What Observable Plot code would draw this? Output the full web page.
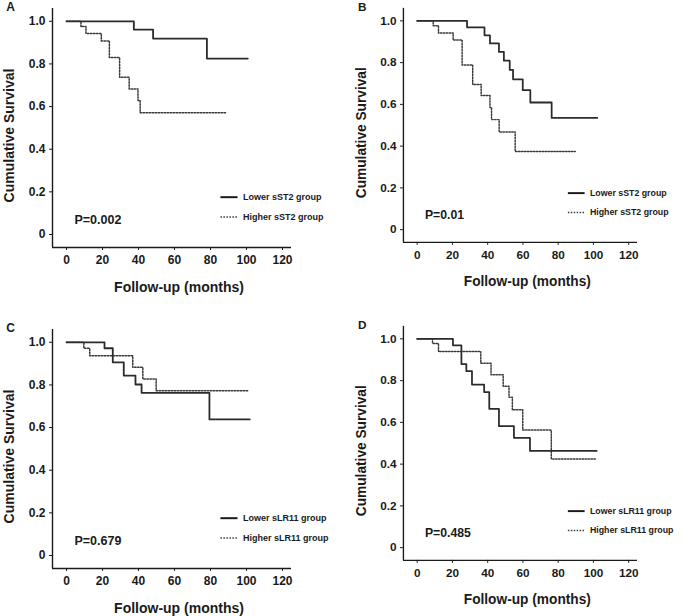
<!DOCTYPE html>
<html>
<head>
<meta charset="utf-8">
<script src="https://cdn.jsdelivr.net/npm/d3@7"></script>
<script src="https://cdn.jsdelivr.net/npm/@observablehq/plot@0.6"></script>
<style>
  html, body { margin: 0; padding: 0; background: #fff; overflow: hidden; }
  #wrap { position: relative; width: 685px; height: 616px; }
  .panel { position: absolute; }
</style>
</head>
<body>
<div id="wrap"></div>
<script>
// ---- data ----
const panelLetters = ["A", "B", "C", "D"];
const groupNames = [
  ["Lower sST2 group", "Higher sST2 group"],
  ["Lower sST2 group", "Higher sST2 group"],
  ["Lower sLR11 group", "Higher sLR11 group"],
  ["Lower sLR11 group", "Higher sLR11 group"]
];
const pValues = ["P=0.002", "P=0.01", "P=0.679", "P=0.485"];

const xTicks = [0, 20, 40, 60, 80, 100, 120];
const yTicks = [0, 0.2, 0.4, 0.6, 0.8, 1.0];

const aLowerT = [0, 37.4, 48.1, 78, 100.7];
const aLowerS = [1, 0.961, 0.919, 0.825, 0.825];
const aHigherT = [0, 8, 10.8, 19.3, 23.8, 29.5, 34.8, 39.7, 40.9, 88.7];
const aHigherS = [1, 0.975, 0.943, 0.908, 0.83, 0.737, 0.683, 0.629, 0.571, 0.571];

const bLowerT = [0, 28.3, 38.2, 41.3, 46.4, 49.2, 52.5, 54.4, 59.9, 64.2, 76.3, 102.2];
const bLowerS = [1, 0.969, 0.931, 0.892, 0.851, 0.809, 0.765, 0.72, 0.668, 0.609, 0.535, 0.535];
const bHigherT = [0, 9.1, 12.1, 20.4, 25.5, 31.5, 36.3, 41.3, 42.2, 46.5, 55.6, 89.7];
const bHigherS = [1, 0.977, 0.942, 0.908, 0.789, 0.695, 0.642, 0.585, 0.527, 0.468, 0.374, 0.374];

const cLowerT = [0, 21.1, 25.7, 31.8, 38.3, 41.7, 79.4, 101.8];
const cLowerS = [1, 0.972, 0.906, 0.844, 0.802, 0.763, 0.638, 0.638];
const cHigherT = [0, 9.6, 12.9, 36.8, 42.4, 49.8, 100.9];
const cHigherS = [1, 0.972, 0.937, 0.883, 0.828, 0.773, 0.773];

const dLowerT = [0, 20.3, 25.1, 27.9, 31.1, 38, 40.9, 46.4, 54.9, 64, 101.8];
const dLowerS = [1, 0.969, 0.879, 0.845, 0.781, 0.745, 0.665, 0.582, 0.526, 0.463, 0.463];
const dHigherT = [0, 8.7, 12.1, 36.1, 41.9, 48.8, 52.1, 54, 59.9, 76.1, 101.8];
const dHigherS = [1, 0.978, 0.939, 0.883, 0.828, 0.773, 0.72, 0.66, 0.563, 0.425, 0.425];

const series = [
  [[aLowerT, aLowerS], [aHigherT, aHigherS]],
  [[bLowerT, bLowerS], [bHigherT, bHigherS]],
  [[cLowerT, cLowerS], [cHigherT, cHigherS]],
  [[dLowerT, dLowerS], [dHigherT, dHigherS]]
];

// ---- layout ----
const offsets = [[0, 0], [352, 0], [0, 321], [352, 318]];
const xDomain = [-7.8, 125];
const yDomain = [-0.061, 1.06];
const legendSample = [85.5, 95];   // in months
const legendTextX = 98;
const legendRows = [0.175, 0.082];
const pPos = [4.4, 0.069];

const FONT = "'Liberation Sans', Arial, Helvetica, sans-serif";
const INK = "#1a1a1a";
const solidColor = "#2b2b2b";
const dotColor = "#3a3a3a";
const dash = "1.5 1.5";

const wrap = document.getElementById("wrap");

panelLetters.forEach((letter, i) => {
  const rows = [];
  series[i].forEach(([T, S], g) => {
    T.forEach((t, k) => rows.push({group: groupNames[i][g], g, t, s: S[k]}));
  });
  const legend = groupNames[i].map((name, g) => ({name, g, y: legendRows[g]}));

  const chart = Plot.plot({
    width: 340,
    height: 300,
    marginLeft: 52,
    marginRight: 49,
    marginTop: 8,
    marginBottom: 53,
    style: {fontFamily: FONT, fontSize: "12px", fontWeight: "bold", color: INK, background: "transparent", overflow: "visible"},
    x: {domain: xDomain, ticks: xTicks, tickSize: 3, tickPadding: 5, label: null},
    y: {domain: yDomain, ticks: yTicks, tickSize: 3, tickPadding: 4, label: null,
        tickFormat: d => d === 0 ? "0" : d.toFixed(1)},
    marks: [
      Plot.ruleX([xDomain[0]], {stroke: INK, strokeWidth: 1.4}),
      Plot.ruleY([yDomain[0]], {stroke: INK, strokeWidth: 1.4}),
      Plot.line(rows.filter(d => d.g === 1), {x: "t", y: "s", curve: "step-after",
        stroke: dotColor, strokeWidth: 1.5, strokeDasharray: dash}),
      Plot.line(rows.filter(d => d.g === 0), {x: "t", y: "s", curve: "step-after",
        stroke: solidColor, strokeWidth: 1.8}),
      Plot.link(legend.filter(d => d.g === 0), {x1: () => legendSample[0], x2: () => legendSample[1], y1: "y", y2: "y",
        stroke: INK, strokeWidth: 2}),
      Plot.link(legend.filter(d => d.g === 1), {x1: () => legendSample[0], x2: () => legendSample[1], y1: "y", y2: "y",
        stroke: dotColor, strokeWidth: 1.6, strokeDasharray: dash}),
      Plot.text(legend, {x: () => legendTextX, y: "y", text: "name", textAnchor: "start",
        fontSize: 9, fontWeight: "bold", fill: INK}),
      Plot.text([pValues[i]], {x: () => pPos[0], y: () => pPos[1], text: d => d, textAnchor: "start",
        fontSize: 12.5, fontWeight: "bold", fill: INK}),
      Plot.text(["Cumulative Survival"], {text: d => d, frameAnchor: "left", textAnchor: "middle", lineAnchor: "middle",
        rotate: -90, dx: -43, dy: 7.5, fontSize: 14, fontWeight: "bold", fill: INK}),
      Plot.text(["Follow-up (months)"], {text: d => d, frameAnchor: "bottom", textAnchor: "middle", lineAnchor: "middle",
        dx: 7, dy: 40, fontSize: 14, fontWeight: "bold", fill: INK}),
      Plot.text([letter], {text: d => d, frameAnchor: "top-left", textAnchor: "middle", lineAnchor: "middle",
        dx: -42, dy: -1, fontSize: 12, fontWeight: "bold", fill: INK})
    ]
  });
  const div = document.createElement("div");
  div.className = "panel";
  div.style.left = offsets[i][0] + "px";
  div.style.top = offsets[i][1] + "px";
  div.appendChild(chart);
  wrap.appendChild(div);
});
</script>
</body>
</html>
